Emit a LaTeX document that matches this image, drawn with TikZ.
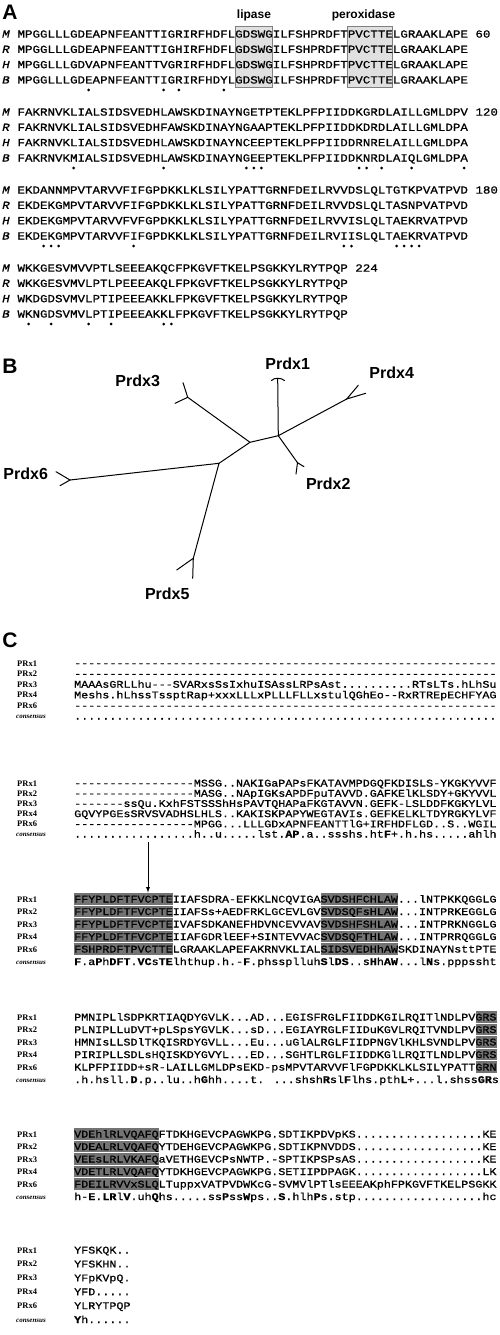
\documentclass[tikz,border=0pt]{standalone}
\usepackage{fontspec}
\setmainfont{Liberation Serif}
\setsansfont{Liberation Sans}
\newfontfamily\seqfont{Liberation Mono}[FakeStretch=1.15, FakeBold=0.9]
\usepackage{tikz}

\tikzset{
  panel/.style={font=\sffamily\bfseries\fontsize{21}{21}\selectfont, inner sep=0pt},
  motif/.style={font=\sffamily\bfseries\fontsize{12}{12}\selectfont, inner sep=0pt},
  seqA/.style={font=\seqfont\fontsize{10.88}{10.88}\selectfont, anchor=base west, inner sep=0pt},
  spec/.style={font=\seqfont\itshape\fontsize{10.88}{10.88}\selectfont, anchor=base west, inner sep=0pt},
  seqC/.style={font=\seqfont\fontsize{10.2}{10.2}\selectfont, anchor=base west, inner sep=0pt},
  prx/.style={font=\rmfamily\bfseries\fontsize{8.5}{8.5}\selectfont, anchor=base west, inner sep=0pt},
  cons/.style={font=\rmfamily\bfseries\itshape\fontsize{7}{7}\selectfont, anchor=base west, inner sep=0pt},
  leaf/.style={font=\sffamily\bfseries\fontsize{16}{16}\selectfont, inner sep=0pt},
  branch/.style={line width=1pt, line cap=round},
  motifbox/.style={fill=black!12, draw=black!50, line width=0.7pt},
  darkbox/.style={fill=black!55},
}

\begin{document}
\begin{tikzpicture}[x=1pt, y=-1pt]
  \useasboundingbox (0,0) rectangle (499,1335);

  %%%%%%%%%%%%%%%% A
  \node[panel] (pA) at (10, 12.5) {A};
  \draw[motifbox] (235.1, 26) rectangle (272.6, 87);
  \draw[motifbox] (347.7, 26) rectangle (392.8, 87);
  \node[motif] (lip) at (254, 15) {lipase};
  \node[motif] (perox) at (363.5, 15) {peroxidase};

  % block 1
  \node[spec] (a1m) at (2, 37.6) {M};
  \node[spec] (a1r) at (2, 52.9) {R};
  \node[spec] (a1h) at (2, 68.2) {H};
  \node[spec] (a1b) at (2, 83.5) {B};
  \node[seqA] (s1m) at (17.3, 37.6) {MPGGLLLGDEAPNFEANTTIGRIRFHDFLGDSWGILFSHPRDFTPVCTTELGRAAKLAPE 60};
  \node[seqA] (s1r) at (17.3, 52.9) {MPGGLLLGDEAPNFEANTTIGHIRFHDFLGDSWGILFSHPRDFTPVCTTELGRAAKLAPE};
  \node[seqA] (s1h) at (17.3, 68.2) {MPGGLLLGDVAPNFEANTTVGRIRFHDFLGDSWGILFSHPRDFTPVCTTELGRAAKLAPE};
  \node[seqA] (s1b) at (17.3, 83.5) {MPGGLLLGDEAPNFEANTTIGRIRFHDYLGDSWGILFSHPRDFTPVCTTELGRAAKLAPE};
  \foreach \c in {10,20,22,28}
    \fill ({17.3+(\c-0.5)*7.51}, 90) circle (1.5);

  % block 2
  \node[spec] (a2m) at (2, 115.6) {M};
  \node[spec] (a2r) at (2, 130.9) {R};
  \node[spec] (a2h) at (2, 146.2) {H};
  \node[spec] (a2b) at (2, 161.5) {B};
  \node[seqA] (s2m) at (17.3, 115.6) {FAKRNVKLIALSIDSVEDHLAWSKDINAYNGETPTEKLPFPIIDDKGRDLAILLGMLDPV 120};
  \node[seqA] (s2r) at (17.3, 130.9) {FAKRNVKLIALSIDSVEDHFAWSKDINAYNGAAPTEKLPFPIIDDKDRDLAILLGMLDPA};
  \node[seqA] (s2h) at (17.3, 146.2) {FAKRNVKLIALSIDSVEDHLAWSKDINAYNCEEPTEKLPFPIIDDRNRELAILLGMLDPA};
  \node[seqA] (s2b) at (17.3, 161.5) {FAKRNVKMIALSIDSVEDHLAWSKDINAYNGEEPTEKLPFPIIDDKNRDLAIQLGMLDPA};
  \foreach \c in {8,20,31,32,33,46,47,49,53,60}
    \fill ({17.3+(\c-0.5)*7.51}, 168) circle (1.5);

  % block 3
  \node[spec] (a3m) at (2, 193.6) {M};
  \node[spec] (a3r) at (2, 208.9) {R};
  \node[spec] (a3h) at (2, 224.2) {H};
  \node[spec] (a3b) at (2, 239.5) {B};
  \node[seqA] (s3m) at (17.3, 193.6) {EKDANNMPVTARVVFIFGPDKKLKLSILYPATTGRNFDEILRVVDSLQLTGTKPVATPVD 180};
  \node[seqA] (s3r) at (17.3, 208.9) {EKDEKGMPVTARVVFIFGPDKKLKLSILYPATTGRNFDEILRVVDSLQLTASNPVATPVD};
  \node[seqA] (s3h) at (17.3, 224.2) {EKDEKGMPVTARVVFVFGPDKKLKLSILYPATTGRNFDEILRVVISLQLTAEKRVATPVD};
  \node[seqA] (s3b) at (17.3, 239.5) {EKDEKGMPVTARVVFIFGPDKKLKLSILYPATTGRNFDEILRVIISLQLTAEKRVATPVD};
  \foreach \c in {4,5,6,16,44,45,51,52,53,54}
    \fill ({17.3+(\c-0.5)*7.51}, 246) circle (1.5);

  % block 4
  \node[spec] (a4m) at (2, 271.6) {M};
  \node[spec] (a4r) at (2, 286.9) {R};
  \node[spec] (a4h) at (2, 302.2) {H};
  \node[spec] (a4b) at (2, 317.5) {B};
  \node[seqA] (s4m) at (17.3, 271.6) {WKKGESVMVVPTLSEEEAKQCFPKGVFTKELPSGKKYLRYTPQP 224};
  \node[seqA] (s4r) at (17.3, 286.9) {WKKGESVMVLPTLPEEEAKQLFPKGVFTKELPSGKKYLRYTPQP};
  \node[seqA] (s4h) at (17.3, 302.2) {WKDGDSVMVLPTIPEEEAKKLFPKGVFTKELPSGKKYLRYTPQP};
  \node[seqA] (s4b) at (17.3, 317.5) {WKNGDSVMVLPTIPEEEAKKLFPKGVFTKELPSGKKYLRYTPQP};
  \foreach \c in {2,5,10,13,20,21}
    \fill ({17.3+(\c-0.5)*7.51}, 324) circle (1.5);

  %%%%%%%%%%%%%%%% B
  \node[panel] (pB) at (10, 366.5) {B};

  % inner nodes of the tree
  \coordinate (n1) at (278.3, 435.7);
  \coordinate (n2) at (250, 442.3);
  \coordinate (n3) at (219, 463.3);
  % tips and their forks
  \coordinate (t1) at (277.7, 379);
  \coordinate (t2) at (297.5, 462.7);
  \coordinate (t2a) at (296, 474);
  \coordinate (t2b) at (304, 466.7);
  \coordinate (t3) at (187.7, 397.3);
  \coordinate (t3a) at (183, 382.7);
  \coordinate (t3b) at (175, 403.3);
  \coordinate (t4) at (346.7, 399);
  \coordinate (t4a) at (358.3, 385.3);
  \coordinate (t4b) at (365.7, 393.3);
  \coordinate (t5) at (193.3, 558.3);
  \coordinate (t5a) at (192.7, 578.3);
  \coordinate (t5b) at (176.7, 570);
  \coordinate (t6) at (70, 480);
  \coordinate (t6a) at (56, 471.7);
  \coordinate (t6b) at (60, 485.7);

  \draw[branch] (n1) -- (n2) -- (n3);
  \draw[branch] (n1) -- (t1);
  \draw[branch] (n1) -- (t2);
  \draw[branch] (n2) -- (t3);
  \draw[branch] (n1) -- (t4);
  \draw[branch] (n3) -- (t5);
  \draw[branch] (n3) -- (t6);
  \draw[branch] (271.5, 380.5) .. controls (274, 377.5) and (281, 377.5) .. (284.5, 380.5);
  \draw[branch] (t2a) -- (t2) -- (t2b);
  \draw[branch] (t3a) -- (t3) -- (t3b);
  \draw[branch] (t4a) -- (t4) -- (t4b);
  \draw[branch] (t5a) -- (t5) -- (t5b);
  \draw[branch] (t6a) -- (t6) -- (t6b);

  \node[leaf] (prdx1) at (287.7, 363.3) {Prdx1};
  \node[leaf] (prdx2) at (328.3, 483.3) {Prdx2};
  \node[leaf] (prdx3) at (137.7, 381) {Prdx3};
  \node[leaf] (prdx4) at (391.7, 372.7) {Prdx4};
  \node[leaf] (prdx5) at (167.3, 593.3) {Prdx5};
  \node[leaf] (prdx6) at (25.7, 474) {Prdx6};

  %%%%%%%%%%%%%%%% C
  \node[panel] (pC) at (10, 640) {C};

  % block 1
  \begin{scope}[yshift=-663pt]
    \def\dy{10.6}
    \node[prx] (c1l1) at (17, {0*\dy+3}) {PRx1};
    \node[prx] (c1l2) at (17, {1*\dy+3}) {PRx2};
    \node[prx] (c1l3) at (17, {2*\dy+3}) {PRx3};
    \node[prx] (c1l4) at (17, {3*\dy+3}) {PRx4};
    \node[prx] (c1l6) at (17, {4*\dy+3}) {PRx6};
    \node[cons] (c1lc) at (16, {5*\dy+2.5}) {consensus};
    \node[seqC] (c1s1) at (74, {0*\dy+3.5}) {------------------------------------------------------------};
    \node[seqC] (c1s2) at (74, {1*\dy+3.5}) {------------------------------------------------------------};
    \node[seqC] (c1s3) at (74, {2*\dy+3.5}) {MAAAsGRLLhu---SVARxsSsIxhuISAssLRPsAst..........RTsLTs.hLhSu};
    \node[seqC] (c1s4) at (74, {3*\dy+3.5}) {Meshs.hLhssTssptRap+xxxLLLxPLLLFLLxstulQGhEo--RxRTREpECHFYAG};
    \node[seqC] (c1s6) at (74, {4*\dy+3.5}) {------------------------------------------------------------};
    \node[seqC] (c1sc) at (74, {5*\dy+3.5}) {............................................................};
  \end{scope}

  % block 2
  \begin{scope}[yshift=-783pt]
    \def\dy{10.2}
    \node[prx] (c2l1) at (17, {0*\dy+3}) {PRx1};
    \node[prx] (c2l2) at (17, {1*\dy+3}) {PRx2};
    \node[prx] (c2l3) at (17, {2*\dy+3}) {PRx3};
    \node[prx] (c2l4) at (17, {3*\dy+3}) {PRx4};
    \node[prx] (c2l6) at (17, {4*\dy+3}) {PRx6};
    \node[cons] (c2lc) at (16, {5*\dy+2.5}) {consensus};
    \node[seqC] (c2s1) at (74, {0*\dy+3.5}) {-----------------MSSG..NAKIGaPAPsFKATAVMPDGQFKDISLS-YKGKYVVF};
    \node[seqC] (c2s2) at (74, {1*\dy+3.5}) {-----------------MASG..NApIGKsAPDFpuTAVVD.GAFKElKLSDY+GKYVVL};
    \node[seqC] (c2s3) at (74, {2*\dy+3.5}) {-------ssQu.KxhFSTSSShHsPAVTQHAPaFKGTAVVN.GEFK-LSLDDFKGKYLVL};
    \node[seqC] (c2s4) at (74, {3*\dy+3.5}) {GQVYPGEsSRVSVADHSLHLS..KAKISKPAPYWEGTAVIs.GEFKELKLTDYRGKYLVF};
    \node[seqC] (c2s6) at (74, {4*\dy+3.5}) {-----------------MPGG...LLLGDxAPNFEANTTlG+IRFHDFLGD..S..WGIL};
    \node[seqC] (c2sc) at (74, {5*\dy+3.5}) {.................h..u.....lst.\textbf{AP}.a..ssshs.ht\textbf{F}+.h.hs.....ahlh};
  \end{scope}

  % the active cysteine
  \coordinate (cysA) at (148, 842);
  \coordinate (cysB) at (148, 892.5);
  \draw[-latex, line width=0.9pt] (cysA) -- (cysB);

  % block 3
  \begin{scope}[yshift=-899pt]
    \def\dy{12.5}
    \foreach \r in {0,...,4} {
      \fill[darkbox] (74, {\r*\dy-5.9}) rectangle (172.7, {\r*\dy+5.9});
      \fill[darkbox] (320.75, {\r*\dy-5.9}) rectangle (398.3, {\r*\dy+5.9});
    }
    \node[prx] (c3l1) at (17, {0*\dy+3}) {PRx1};
    \node[prx] (c3l2) at (17, {1*\dy+3}) {PRx2};
    \node[prx] (c3l3) at (17, {2*\dy+3}) {PRx3};
    \node[prx] (c3l4) at (17, {3*\dy+3}) {PRx4};
    \node[prx] (c3l6) at (17, {4*\dy+3}) {PRx6};
    \node[cons] (c3lc) at (16, {5*\dy+2.5}) {consensus};
    \node[seqC] (c3s1) at (74, {0*\dy+3.5}) {FFYPLDFTFVCPTEIIAFSDRA-EFKKLNCQVIGASVDSHFCHLAW...lNTPKKQGGLG};
    \node[seqC] (c3s2) at (74, {1*\dy+3.5}) {FFYPLDFTFVCPTEIIAFSs+AEDFRKLGCEVLGVSVDSQFsHLAW...INTPRKEGGLG};
    \node[seqC] (c3s3) at (74, {2*\dy+3.5}) {FFYPLDFTFVCPTEIVAFSDKANEFHDVNCEVVAVSVDSHFSHLAW...INTPRKNGGLG};
    \node[seqC] (c3s4) at (74, {3*\dy+3.5}) {FFYPLDFTFVCPTEIIAFGDRlEEF+SINTEVVACSVDSQFTHLAW...INTPRRQGGLG};
    \node[seqC] (c3s6) at (74, {4*\dy+3.5}) {FSHPRDFTPVCTTELGRAAKLAPEFAKRNVKLIALSIDSVEDHhAWSKDINAYNsttPTE};
    \node[seqC] (c3sc) at (74, {5*\dy+3.5}) {\textbf{F}.a\textbf{P}h\textbf{DFT}.\textbf{VC}s\textbf{TE}lhthup.h.-\textbf{F}.phssplluh\textbf{S}l\textbf{DS}..s\textbf{H}h\textbf{AW}...l\textbf{N}s.pppssht};
  \end{scope}

  % block 4
  \begin{scope}[yshift=-1017pt]
    \def\dy{12.5}
    \foreach \r in {0,...,4}
      \fill[darkbox] (475.85, {\r*\dy-5.9}) rectangle (497, {\r*\dy+5.9});
    \node[prx] (c4l1) at (17, {0*\dy+3}) {PRx1};
    \node[prx] (c4l2) at (17, {1*\dy+3}) {PRx2};
    \node[prx] (c4l3) at (17, {2*\dy+3}) {PRx3};
    \node[prx] (c4l4) at (17, {3*\dy+3}) {PRx4};
    \node[prx] (c4l6) at (17, {4*\dy+3}) {PRx6};
    \node[cons] (c4lc) at (16, {5*\dy+2.5}) {consensus};
    \node[seqC] (c4s1) at (74, {0*\dy+3.5}) {PMNIPLlSDPKRTIAQDYGVLK...AD...EGISFRGLFIIDDKGILRQITlNDLPVGRS};
    \node[seqC] (c4s2) at (74, {1*\dy+3.5}) {PLNIPLLuDVT+pLSpsYGVLK...sD...EGIAYRGLFIIDuKGVLRQITVNDLPVGRS};
    \node[seqC] (c4s3) at (74, {2*\dy+3.5}) {HMNIsLLSDlTKQISRDYGVLL...Eu...uGlALRGLFIIDPNGVlKHLSVNDLPVGRS};
    \node[seqC] (c4s4) at (74, {3*\dy+3.5}) {PIRIPLLSDLsHQISKDYGVYL...ED...SGHTLRGLFIIDDKGlLRQITLNDLPVGRS};
    \node[seqC] (c4s6) at (74, {4*\dy+3.5}) {KLPFPIIDD+sR-LAILLGMLDPsEKD-psMPVTARVVFlFGPDKKLKLSILYPATTGRN};
    \node[seqC] (c4sc) at (74, {5*\dy+3.5}) {.h.hsll.\textbf{D}.p..lu..h\textbf{G}hh....t. ...shsh\textbf{R}sl\textbf{F}lhs.pth\textbf{L}+...l.shss\textbf{GR}s};
  \end{scope}

  % block 5
  \begin{scope}[yshift=-1134pt]
    \def\dy{12.5}
    \foreach \r in {0,...,4}
      \fill[darkbox] (74, {\r*\dy-5.9}) rectangle (158.6, {\r*\dy+5.9});
    \node[prx] (c5l1) at (17, {0*\dy+3}) {PRx1};
    \node[prx] (c5l2) at (17, {1*\dy+3}) {PRx2};
    \node[prx] (c5l3) at (17, {2*\dy+3}) {PRx3};
    \node[prx] (c5l4) at (17, {3*\dy+3}) {PRx4};
    \node[prx] (c5l6) at (17, {4*\dy+3}) {PRx6};
    \node[cons] (c5lc) at (16, {5*\dy+2.5}) {consensus};
    \node[seqC] (c5s1) at (74, {0*\dy+3.5}) {VDEhlRLVQAFQFTDKHGEVCPAGWKPG.SDTIKPDVpKS..................KE};
    \node[seqC] (c5s2) at (74, {1*\dy+3.5}) {VDEALRLVQAFQYTDEHGEVCPAGWKPG.SDTIKPNVDDS..................KE};
    \node[seqC] (c5s3) at (74, {2*\dy+3.5}) {VEEsLRLVKAFQaVETHGEVCPsNWTP.-SPTIKPSPsAS..................KE};
    \node[seqC] (c5s4) at (74, {3*\dy+3.5}) {VDETLRLVQAFQYTDKHGEVCPAGWKPG.SETIIPDPAGK..................LK};
    \node[seqC] (c5s6) at (74, {4*\dy+3.5}) {FDEILRVVxSLQLTuppxVATPVDWKcG-SVMVlPTlsEEEAKphFPKGVFTKELPSGKK};
    \node[seqC] (c5sc) at (74, {5*\dy+3.5}) {h-\textbf{E}.\textbf{LR}l\textbf{V}.uh\textbf{Q}hs.....ss\textbf{P}ss\textbf{W}ps..\textbf{S}.hlh\textbf{P}s.stp..................hc};
  \end{scope}

  % block 6
  \begin{scope}[yshift=-1250pt]
    \def\dy{13.9}
    \node[prx] (c6l1) at (17, {0*\dy+3}) {PRx1};
    \node[prx] (c6l2) at (17, {1*\dy+3}) {PRx2};
    \node[prx] (c6l3) at (17, {2*\dy+3}) {PRx3};
    \node[prx] (c6l4) at (17, {3*\dy+3}) {PRx4};
    \node[prx] (c6l6) at (17, {4*\dy+3}) {PRx6};
    \node[cons] (c6lc) at (16, {5*\dy+2.5}) {consensus};
    \node[seqC] (c6s1) at (74, {0*\dy+3.5}) {YFSKQK..};
    \node[seqC] (c6s2) at (74, {1*\dy+3.5}) {YFSKHN..};
    \node[seqC] (c6s3) at (74, {2*\dy+3.5}) {YFpKVpQ.};
    \node[seqC] (c6s4) at (74, {3*\dy+3.5}) {YFD.....};
    \node[seqC] (c6s6) at (74, {4*\dy+3.5}) {YLRYTPQP};
    \node[seqC] (c6sc) at (74, {5*\dy+3.5}) {\textbf{Y}h......};
  \end{scope}
\end{tikzpicture}
\end{document}
